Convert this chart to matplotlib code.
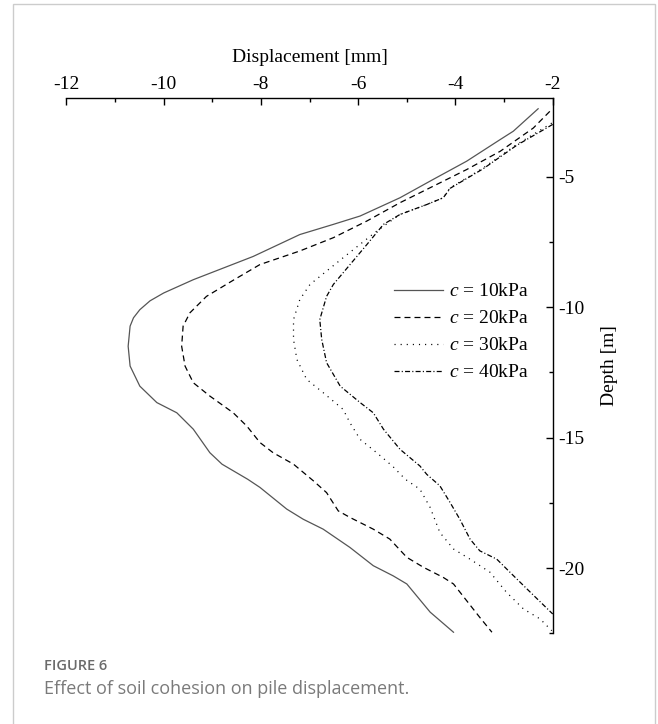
import matplotlib
matplotlib.use("Agg")
import matplotlib.pyplot as plt
from matplotlib.patches import Rectangle

plt.rcParams['font.family'] = ['Liberation Serif', 'DejaVu Serif']
plt.rcParams['mathtext.fontset'] = 'custom'
plt.rcParams['mathtext.it'] = 'Liberation Serif:italic'
plt.rcParams['mathtext.rm'] = 'Liberation Serif'
plt.rcParams['axes.unicode_minus'] = False
plt.rcParams['lines.scale_dashes'] = False

# datos: profundidad [m] y desplazamiento [mm]
depth_10 = [-2.40, -3.26, -3.58, -4.41, -5.11, -5.81, -6.51, -6.83, -7.22, -8.06, -8.95, -9.46,
            -9.76, -10.10, -10.41, -10.73, -11.50, -12.26, -13.03, -13.66, -14.05, -14.68,
            -15.58, -16.02, -16.60, -16.91, -17.74, -18.13, -18.51, -19.21, -19.91, -20.30,
            -20.61, -21.06, -21.69, -22.46]
disp_10 = [-2.30, -2.81, -3.08, -3.77, -4.46, -5.14, -5.96, -6.51, -7.20, -8.16, -9.39, -10.00,
           -10.28, -10.49, -10.62, -10.69, -10.73, -10.69, -10.49, -10.14, -9.73, -9.39,
           -9.05, -8.80, -8.27, -8.02, -7.47, -7.13, -6.72, -6.17, -5.69, -5.28,
           -5.00, -4.80, -4.52, -4.04]

depth_20 = [-2.50, -3.14, -4.03, -4.73, -5.37, -6.00, -6.70, -7.34, -7.85, -8.37, -8.95, -9.59,
            -10.22, -10.73, -11.50, -12.26, -12.90, -13.41, -14.05, -14.56, -15.19, -15.58,
            -16.02, -16.66, -17.11, -17.81, -18.06, -18.51, -18.89, -19.59, -19.97, -20.36,
            -20.61, -21.25, -21.89, -22.46]
disp_20 = [-2.06, -2.40, -3.08, -3.77, -4.46, -5.14, -5.82, -6.51, -7.20, -8.02, -8.55, -9.12,
           -9.46, -9.60, -9.63, -9.56, -9.39, -9.05, -8.57, -8.29, -8.02, -7.75,
           -7.33, -6.92, -6.65, -6.41, -6.17, -5.69, -5.35, -5.00, -4.66, -4.25,
           -4.04, -3.77, -3.50, -3.25]

depth_30 = [-2.95, -3.77, -4.67, -5.43, -5.81, -6.07, -6.45, -7.09, -8.11, -9.13, -9.71, -10.48,
            -11.24, -12.01, -12.77, -13.28, -13.92, -14.43, -15.07, -15.58, -16.12, -16.60,
            -16.98, -17.68, -18.64, -19.27, -19.66, -20.16, -20.93, -21.57, -21.95, -22.40]
disp_30 = [-2.02, -2.74, -3.43, -4.11, -4.25, -4.59, -5.14, -5.62, -6.31, -6.99, -7.20, -7.33,
           -7.33, -7.26, -7.06, -6.72, -6.31, -6.17, -5.96, -5.62, -5.28, -5.03,
           -4.73, -4.52, -4.32, -4.04, -3.70, -3.29, -2.95, -2.60, -2.26, -2.02]

depth_40 = [-3.00, -3.80, -4.70, -5.45, -5.81, -6.07, -6.45, -6.83, -7.60, -9.13, -9.59, -10.48,
            -11.24, -12.13, -13.03, -13.66, -14.05, -14.68, -15.45, -16.09, -16.41, -16.85,
            -17.49, -18.13, -18.89, -19.34, -19.66, -20.16, -20.80, -21.76]
disp_40 = [-2.00, -2.74, -3.43, -4.11, -4.25, -4.59, -5.14, -5.48, -5.82, -6.51, -6.65, -6.79,
           -6.75, -6.65, -6.37, -5.96, -5.69, -5.48, -5.14, -4.73, -4.59, -4.32,
           -4.11, -3.91, -3.70, -3.50, -3.15, -2.88, -2.53, -2.00]

etiquetas = ["$c$ = 10kPa", "$c$ = 20kPa", "$c$ = 30kPa", "$c$ = 40kPa"]

fig = plt.figure(figsize=(6.58, 7.24), dpi=100)
ax = fig.add_axes([0.1009, 0.1253, 0.7391, 0.7389])

ax.plot(disp_10, depth_10, color='#555555', linewidth=0.9, label=etiquetas[0])
ax.plot(disp_20, depth_20, color='black', linewidth=0.9, dashes=(4.3, 2.9), label=etiquetas[1])
ax.plot(disp_30, depth_30, color='black', linewidth=0.9, dashes=(0.8, 3.6), label=etiquetas[2])
ax.plot(disp_40, depth_40, color='black', linewidth=0.9, dashes=(3.6, 1.6, 0.8, 1.6), label=etiquetas[3])

ax.set_xlim(-12, -2)
ax.set_ylim(-22.5, -2)
ax.spines['left'].set_visible(False)
ax.spines['bottom'].set_visible(False)
for s in ['top', 'right']:
    ax.spines[s].set_linewidth(1.0)

ax.xaxis.tick_top()
ax.xaxis.set_label_position('top')
ax.yaxis.tick_right()
ax.yaxis.set_label_position('right')
ax.set_xticks([-12, -10, -8, -6, -4, -2])
ax.set_xticks([-11, -9, -7, -5, -3], minor=True)
ax.set_yticks([-5, -10, -15, -20])
ax.set_yticks([-7.5, -12.5, -17.5, -22.5], minor=True)
ax.tick_params(which='major', direction='in', length=5, width=1.0, labelsize=14)
ax.tick_params(which='minor', direction='in', length=3, width=1.0)
ax.tick_params(axis='x', which='both', top=True, bottom=False, pad=4)
ax.tick_params(axis='y', which='both', right=True, left=False, pad=4)

ax.set_xlabel("Displacement [mm]", fontsize=14, labelpad=10)
ax.set_ylabel("Depth [m]", fontsize=14, labelpad=12, rotation=90)

ax.legend(loc='upper left', bbox_to_anchor=(0.674, 0.655), frameon=False, fontsize=14,
          handlelength=2.5, handletextpad=0.3, labelspacing=0.48, borderpad=0, borderaxespad=0)

# marco y pie de figura
fig.patches.append(Rectangle((13.3 / 658, -0.05), (655 - 13.3) / 658, 1.05 - 4 / 724,
                             transform=fig.transFigure, fill=False, edgecolor='#cccccc',
                             linewidth=1.0))
fig.text(43.7 / 658, 1 - 666 / 724, "FIGURE 6", family='Open Sans', fontweight='semibold',
         fontsize=10.5, color='#6b6b6b', va='center', ha='left')
fig.text(43.7 / 658, 1 - 689 / 724, "Effect of soil cohesion on pile displacement.",
         family='Open Sans', fontsize=13, color='#7a7a7a', va='center', ha='left')

plt.savefig("out.png", dpi=100)
